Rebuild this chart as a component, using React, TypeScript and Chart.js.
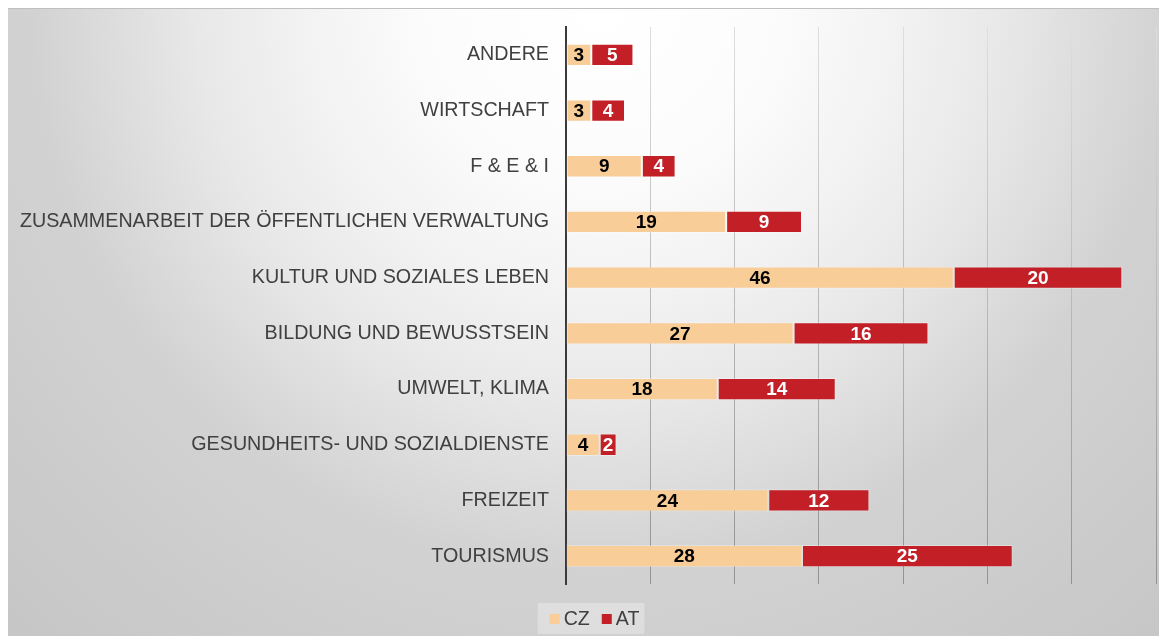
import React, { useEffect, useRef } from "react";
import { Chart, registerables } from "chart.js";

Chart.register(...registerables);

const categories = [
  "ANDERE",
  "WIRTSCHAFT",
  "F & E & I",
  "ZUSAMMENARBEIT DER ÖFFENTLICHEN VERWALTUNG",
  "KULTUR UND SOZIALES LEBEN",
  "BILDUNG UND BEWUSSTSEIN",
  "UMWELT, KLIMA",
  "GESUNDHEITS- UND SOZIALDIENSTE",
  "FREIZEIT",
  "TOURISMUS",
];
const czValues = [3, 3, 9, 19, 46, 27, 18, 4, 24, 28];
const atValues = [5, 4, 4, 9, 20, 16, 14, 2, 12, 25];
const seriesNames = ["CZ", "AT"];
const seriesColors = ["#F9CD98", "#C21F26"];
const labelColors = ["#000000", "#FFFFFF"];
const xMax = 70;
const xStep = 10;

const FONT = '"Liberation Sans", Arial, sans-serif';

const backgroundPlugin = {
  id: "bgGradient",
  beforeDraw(chart: any) {
    const { ctx, width, height } = chart;
    ctx.save();
    const g = ctx.createRadialGradient(592, -8, 0, 592, -8, 860);
    g.addColorStop(0, "#ffffff");
    g.addColorStop(0.2, "#fcfcfc");
    g.addColorStop(0.35, "#f2f2f2");
    g.addColorStop(0.47, "#e8e8e8");
    g.addColorStop(0.66, "#d2d2d2");
    g.addColorStop(1, "#c6c6c6");
    ctx.fillStyle = g;
    ctx.fillRect(0, 0, width, height);
    ctx.fillStyle = "#bfbfbf";
    ctx.fillRect(0, 0, width, 1);
    ctx.restore();
  },
};

const valueLabelPlugin = {
  id: "valueLabels",
  afterDatasetsDraw(chart: any) {
    const { ctx } = chart;
    ctx.save();
    ctx.font = `bold 19px ${FONT}`;
    ctx.textAlign = "center";
    ctx.textBaseline = "middle";
    chart.data.datasets.forEach((ds: any, di: number) => {
      const meta = chart.getDatasetMeta(di);
      meta.data.forEach((el: any, i: number) => {
        const v = ds.data[i];
        const cx = (el.x + el.base) / 2;
        ctx.fillStyle = labelColors[di];
        ctx.fillText(String(v), cx, el.y + 1);
      });
    });
    ctx.restore();
  },
};

const legendPlugin = {
  id: "customLegend",
  afterDraw(chart: any) {
    const { ctx, width } = chart;
    ctx.save();
    ctx.font = `19.6px ${FONT}`;
    ctx.textBaseline = "middle";
    const sq = 10;
    const gap = 4;
    const itemGap = 12;
    const widths = seriesNames.map((n) => ctx.measureText(n).width);
    let total = 0;
    widths.forEach((w, i) => {
      total += sq + gap + w + (i < widths.length - 1 ? itemGap : 0);
    });
    const startX = width / 2 + 7 - total / 2;
    const cy = 611;
    ctx.fillStyle = "rgba(255,255,255,0.3)";
    ctx.fillRect(startX - 12, cy - 16, total + 17, 31);
    let x = startX;
    seriesNames.forEach((n, i) => {
      ctx.fillStyle = seriesColors[i];
      ctx.fillRect(x, cy - sq / 2, sq, sq);
      x += sq + gap;
      ctx.fillStyle = "#404040";
      ctx.fillText(n, x, cy + 1);
      x += widths[i] + itemGap;
    });
    ctx.restore();
  },
};

export default function App() {
  const canvasRef = useRef<HTMLCanvasElement | null>(null);

  useEffect(() => {
    if (!canvasRef.current) return;
    const chart = new Chart(canvasRef.current, {
      type: "bar",
      data: {
        labels: categories,
        datasets: [
          {
            label: seriesNames[0],
            data: czValues,
            backgroundColor: seriesColors[0],
            borderColor: "rgba(255,255,255,0.3)",
            borderWidth: 1,
            borderSkipped: false,
            categoryPercentage: 1,
            barPercentage: 0.4,
          },
          {
            label: seriesNames[1],
            data: atValues,
            backgroundColor: seriesColors[1],
            borderColor: "rgba(255,255,255,0.3)",
            borderWidth: 1,
            borderSkipped: false,
            categoryPercentage: 1,
            barPercentage: 0.4,
          },
        ],
      },
      options: {
        indexAxis: "y",
        animation: false,
        responsive: false,
        maintainAspectRatio: false,
        layout: { padding: { top: 19, right: 11, bottom: 52, left: 0 } },
        plugins: {
          legend: { display: false },
          tooltip: { enabled: false },
          title: { display: false },
        },
        scales: {
          x: {
            stacked: true,
            min: 0,
            max: xMax,
            ticks: { display: false, stepSize: xStep },
            grid: {
              drawTicks: false,
              lineWidth: 1,
              color: (c: any) => {
                const ch = c.chart;
                const area = ch.chartArea;
                if (!area) return "#bbbbbb";
                const g = ch.ctx.createLinearGradient(0, area.top, 0, area.bottom);
                g.addColorStop(0, "#dedede");
                g.addColorStop(1, "#929292");
                return g;
              },
            },
            border: { display: false },
            afterFit: (s: any) => {
              s.height = 0;
              s.paddingLeft = 0;
              s.paddingRight = 0;
            },
          },
          y: {
            stacked: true,
            grid: { display: false, drawTicks: false },
            border: { display: true, color: "#3a3a3a", width: 2 },
            ticks: {
              color: "#404040",
              padding: 17,
              font: { family: FONT, size: 19.7 },
              autoSkip: false,
            },
            afterFit: (s: any) => {
              s.width = 558;
              s.paddingTop = 0;
              s.paddingBottom = 0;
            },
          },
        },
      },
      plugins: [backgroundPlugin, valueLabelPlugin, legendPlugin],
    });
    return () => chart.destroy();
  }, []);

  return (
    <div style={{ width: 1159, height: 628 }}>
      <canvas ref={canvasRef} width={1159} height={628} style={{ display: "block" }} />
    </div>
  );
}
